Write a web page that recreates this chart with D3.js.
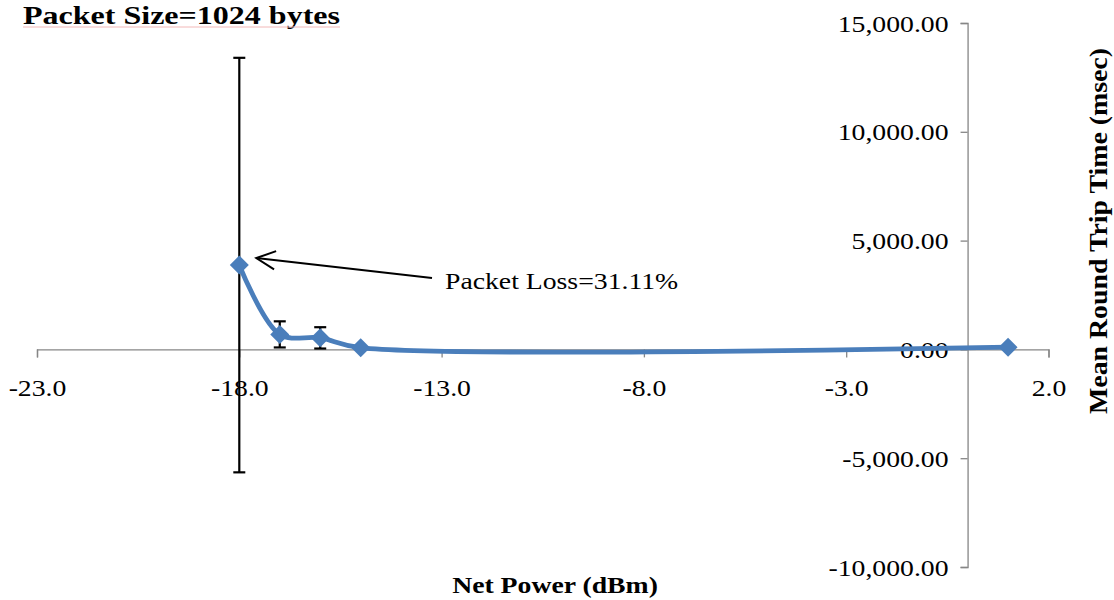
<!DOCTYPE html>
<html><head><meta charset="utf-8">
<script src="https://cdn.jsdelivr.net/npm/d3@7"></script>
<style>body{margin:0;background:#fff}svg{display:block}text{font-family:"Liberation Serif","Times New Roman",serif}</style>
</head><body>
<svg id="c" width="1114" height="600"></svg>
<script>
const netPower = [-18, -17, -16, -15, 1];
const meanRTT = [3875, 690, 530, 80, 100];
const errRTT = [9525, 600, 490, 0, 0];
const xTicks = [-23, -18, -13, -8, -3, 2];
const yTicks = [15000, 10000, 5000, 0, -5000, -10000];
const titleText = "Packet Size=1024 bytes";
const xTitle = "Net Power (dBm)";
const yTitle = "Mean Round Trip Time (msec)";
const noteText = "Packet Loss=31.11%";

const SX = 1.18;      // horizontal stretch of the text
const FS = 23.5;      // base font size
const svg = d3.select("#c");
const x = d3.scaleLinear().domain([-23, 2]).range([37, 1048.5]);
const y = d3.scaleLinear().domain([-10000, 15000]).range([567, 23]);
const axisCol = "#868686";
const hy = s => s.replace(/\u2212/g, "-");

// x axis
const xa = svg.append("g").attr("transform", `translate(0,${y(0)})`)
  .call(d3.axisBottom(x).tickValues(xTicks).tickSize(8).tickFormat(d => hy(d3.format(".1f")(d))));
xa.select(".domain").attr("stroke", axisCol).attr("stroke-width", 1.3);
xa.selectAll(".tick line").attr("stroke", axisCol).attr("stroke-width", 1.3);
xa.selectAll(".tick text").attr("font-size", FS).attr("fill", "#000").attr("dy", 0).attr("y", 47)
  .attr("font-family", "Liberation Serif").attr("transform", `scale(${SX},1)`);

// y axis at x=0
const ya = svg.append("g").attr("transform", `translate(${x(0)},0)`)
  .call(d3.axisLeft(y).tickValues(yTicks).tickSize(7).tickFormat(d => hy(d3.format(",.2f")(d))));
ya.select(".domain").attr("stroke", axisCol).attr("stroke-width", 1.3);
ya.selectAll(".tick line").attr("stroke", axisCol).attr("stroke-width", 1.3);
ya.selectAll(".tick text").attr("font-size", FS).attr("fill", "#000").attr("x", -19 / SX)
  .attr("dy", "0.34em").attr("font-family", "Liberation Serif").attr("transform", `scale(${SX},1)`);

const data = netPower.map((d, i) => ({x: d, y: meanRTT[i], e: errRTT[i]}));

// error bars
const eb = svg.append("g").attr("stroke", "#000").attr("stroke-width", 2.2);
data.filter(d => d.e > 0).forEach(d => {
  const cx = x(d.x);
  eb.append("line").attr("x1", cx).attr("x2", cx).attr("y1", y(d.y + d.e)).attr("y2", y(d.y - d.e));
  [d.y + d.e, d.y - d.e].forEach(v => eb.append("line").attr("x1", cx - 6).attr("x2", cx + 6).attr("y1", y(v)).attr("y2", y(v)));
});

// line
svg.append("path").datum(data)
  .attr("d", d3.line().x(d => x(d.x)).y(d => y(d.y)).curve(d3.curveCatmullRom.alpha(0.5)))
  .attr("fill", "none").attr("stroke", "#4a7ebb").attr("stroke-width", 4.8);

// markers
svg.append("g").selectAll("path").data(data).join("path")
  .attr("transform", d => `translate(${x(d.x)},${y(d.y)})`)
  .attr("d", "M0,-9.5L9.5,0L0,9.5L-9.5,0Z").attr("fill", "#4a7ebb");

// annotation arrow
const ax1 = 432, ay1 = 278, ax2 = x(-18) + 17, ay2 = y(meanRTT[0]) - 7;
svg.append("line").attr("x1", ax1).attr("y1", ay1).attr("x2", ax2).attr("y2", ay2)
  .attr("stroke", "#000").attr("stroke-width", 2);
const ang = Math.atan2(ay1 - ay2, ax1 - ax2);
const L = 21, spread = 0.45;
svg.append("path")
  .attr("d", `M${ax2 + L*Math.cos(ang - spread)},${ay2 + L*Math.sin(ang - spread)}L${ax2},${ay2}L${ax2 + L*Math.cos(ang + spread)},${ay2 + L*Math.sin(ang + spread)}`)
  .attr("fill", "none").attr("stroke", "#000").attr("stroke-width", 2);

function stext(px, py, str, size, weight, anchor) {
  return svg.append("text").attr("transform", `translate(${px},${py}) scale(${SX},1)`)
    .attr("font-size", size).attr("font-weight", weight).attr("text-anchor", anchor).text(str);
}
stext(445, 289, noteText, FS, "normal", "start");

// titles
stext(23, 24, titleText, 26, "bold", "start").attr("textLength", 317 / SX).attr("lengthAdjust", "spacingAndGlyphs");
svg.append("line").attr("x1", 23).attr("x2", 340).attr("y1", 27).attr("y2", 27).attr("stroke", "#f2b8b8").attr("stroke-width", 1);
stext(555, 593, xTitle, FS, "bold", "middle");
svg.append("text").attr("transform", "translate(1107,231) rotate(-90)").attr("text-anchor", "middle")
  .attr("font-size", 25).attr("font-weight", "bold")
  .attr("textLength", 366).attr("lengthAdjust", "spacingAndGlyphs").text(yTitle);
</script>
</body></html>
